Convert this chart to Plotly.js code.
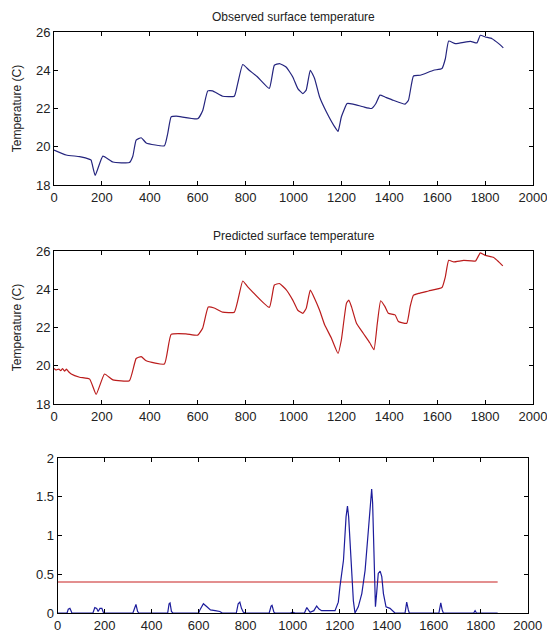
<!DOCTYPE html>
<html><head><meta charset="utf-8">
<script src="https://cdn.plot.ly/plotly-3.0.1.min.js"></script>
<style>html,body{margin:0;padding:0;background:#fff;}#chart{width:547px;height:636px;}</style>
</head><body><div id="chart"></div>
<script>
// Observed surface temperature
var obsX = [0,51,107,149,155,172,204,246,315,329,343,364,385,461,475,489,510,600,621,642,662,704,753,767,788,815,850,899,920,941,969,997,1018,1039,1053,1070,1088,1109,1137,1172,1186,1200,1224,1249,1291,1326,1344,1361,1382,1417,1466,1480,1501,1529,1585,1620,1634,1648,1676,1739,1766,1780,1801,1829,1857,1876];
var obsY = [19.83,19.57,19.48,19.34,19.3,18.5,19.51,19.2,19.17,19.5,20.35,20.47,20.2,20.05,20.7,21.56,21.6,21.46,21.9,22.92,22.92,22.64,22.64,23.3,24.3,24.0,23.65,23.05,24.26,24.35,24.17,23.65,23.04,22.78,22.96,24.0,23.57,22.6,21.83,21.04,20.8,21.57,22.26,22.23,22.09,22.0,22.26,22.7,22.6,22.43,22.23,22.43,23.7,23.74,24.0,24.09,24.6,25.53,25.39,25.51,25.43,25.83,25.74,25.65,25.39,25.17];

// Predicted surface temperature
var predX = [0,8,20,28,36,44,52,60,72,107,149,176,211,246,315,343,364,385,461,489,551,600,621,644,669,704,753,788,808,899,920,941,969,997,1018,1039,1053,1070,1088,1109,1130,1158,1186,1200,1221,1231,1242,1263,1291,1319,1336,1350,1364,1382,1396,1424,1438,1473,1487,1501,1522,1564,1620,1634,1648,1669,1711,1760,1780,1801,1836,1857,1874];
var predY = [19.86,19.78,19.83,19.74,19.85,19.72,19.82,19.7,19.57,19.4,19.3,18.5,19.57,19.26,19.22,20.38,20.48,20.26,20.09,21.64,21.67,21.6,21.98,23.07,23.02,22.8,22.8,24.43,24.14,23.05,24.22,24.3,23.98,23.43,22.9,22.74,23.0,23.95,23.52,22.9,22.14,21.45,20.64,21.36,23.26,23.43,23.09,22.22,21.7,21.19,20.84,22.22,23.4,23.09,22.74,22.66,22.31,22.22,23.09,23.69,23.78,23.91,24.09,24.65,25.51,25.43,25.51,25.48,25.9,25.77,25.66,25.43,25.22];

// Error series (bottom panel)
var errX = [0,40,45,52,58,60,150,158,166,172,180,188,194,200,320,328,333,340,345,468,474,478,484,490,600,605,620,635,650,670,690,700,760,768,775,782,790,800,900,908,912,920,925,990,1000,1010,1050,1060,1068,1074,1090,1102,1112,1123,1180,1194,1201,1216,1227,1233,1238,1247,1258,1265,1279,1294,1308,1322,1332,1336,1340,1346,1352,1357,1364,1372,1379,1386,1397,1414,1435,1478,1485,1492,1496,1622,1630,1636,1641,1770,1776,1782,1872];
var errY = [0,0,0.05,0.06,0.02,0,0,0.07,0.06,0.02,0.06,0.06,0.01,0,0,0.08,0.11,0.02,0,0,0.12,0.13,0.02,0,0,0.04,0.12,0.08,0.04,0.03,0.02,0,0,0.12,0.14,0.06,0.01,0,0,0.09,0.1,0.01,0,0,0.01,0,0,0.07,0.04,0.01,0.03,0.09,0.05,0.03,0.03,0.14,0.34,0.68,1.24,1.38,1.24,0.72,0.16,0,0.08,0.25,0.55,1.07,1.46,1.6,1.42,0.68,0.08,0.25,0.51,0.54,0.47,0.25,0.08,0.06,0,0,0.14,0.04,0,0,0.13,0.04,0,0,0.03,0,0];

// Threshold line
var thrX = [0,1872];
var thrY = [0.4,0.4];

var titles = ["Observed surface temperature","Predicted surface temperature"];
var yTitle = "Temperature (C)";

var FONT = "Liberation Sans, Arial, sans-serif";
var tickFont = {family: FONT, size: 13, color: "#222"};

function xax(domain){
  return {domain: domain, range:[0,2000], dtick:200, tick0:0, showgrid:false, zeroline:false,
    showline:true, linecolor:"#000", linewidth:1, mirror:"allticks", ticks:"inside", ticklen:4,
    tickcolor:"#000", tickfont:tickFont, fixedrange:true, ticklabeloverflow:"allow"};
}
function yax(domain, range, dtick, title){
  var a = {domain: domain, range: range, dtick: dtick, showgrid:false, zeroline:false,
    showline:true, linecolor:"#000", linewidth:1, mirror:"allticks", ticks:"inside", ticklen:4,
    tickcolor:"#000", tickfont:tickFont, fixedrange:true, ticklabeloverflow:"allow"};
  if (title) a.title = {text: title, font:{family:FONT, size:12, color:"#222"}, standoff: 11};
  return a;
}

var data = [
  {x: obsX, y: obsY, type:"scatter", mode:"lines", line:{color:"#24247e", width:1.2, shape:"spline", smoothing:0.4}, xaxis:"x", yaxis:"y"},
  {x: predX, y: predY, type:"scatter", mode:"lines", line:{color:"#bb1c1c", width:1.2, shape:"spline", smoothing:0.4}, xaxis:"x2", yaxis:"y2"},
  {x: thrX, y: thrY, type:"scatter", mode:"lines", line:{color:"#c82020", width:1.2}, xaxis:"x3", yaxis:"y3"},
  {x: errX, y: errY, type:"scatter", mode:"lines", line:{color:"#1c1c9c", width:1.2}, xaxis:"x3", yaxis:"y3"}
];

var layout = {
  width:547, height:636, showlegend:false,
  paper_bgcolor:"#fff", plot_bgcolor:"#fff",
  margin:{l:54, r:14, t:32, b:23},
  xaxis: Object.assign(xax([0,1]), {anchor:"y"}),
  yaxis: Object.assign(yax([0.7367,1],[18,26],2,yTitle), {anchor:"x"}),
  xaxis2: Object.assign(xax([0,1]), {anchor:"y2"}),
  yaxis2: Object.assign(yax([0.3597,0.6231],[18,26],2,yTitle), {anchor:"x2"}),
  xaxis3: Object.assign(xax([0.0077,0.989]), {anchor:"y3"}),
  yaxis3: Object.assign(yax([0,0.2668],[0,2],0.5,null), {anchor:"x3"}),
  annotations:[
    {text: titles[0], xref:"paper", yref:"paper", x:0.5, y:1, yanchor:"bottom", yshift:6, showarrow:false, font:{family:FONT, size:12, color:"#222"}},
    {text: titles[1], xref:"paper", yref:"paper", x:0.5, y:0.6231, yanchor:"bottom", yshift:6, showarrow:false, font:{family:FONT, size:12, color:"#222"}}
  ]
};

Plotly.newPlot("chart", data, layout, {displayModeBar:false, staticPlot:true});
</script>
</body></html>
